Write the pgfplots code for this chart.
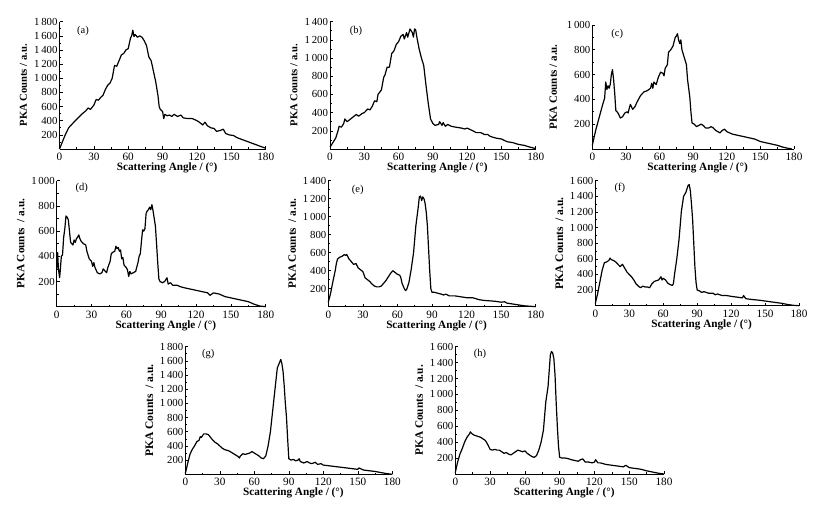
\documentclass[border=0pt]{standalone}
\usepackage{fontspec}
\setmainfont{Liberation Serif}
\usepackage{pgfplots}
\pgfplotsset{compat=1.18}
\pgfplotsset{pka/.style={
  scale only axis, axis lines=left, axis line style={-, line width=0.7pt},
  xmin=0, xmax=180, ymin=0, no marks,
  xtick={0,30,...,180}, minor xtick={15,45,...,165},
  tick align=inside, major tick length=3pt, minor tick length=1.8pt,
  tick style={line width=0.6pt, black},
  /pgf/number format/assume math mode=true,
  /pgf/number format/1000 sep={\,},
  xticklabel style={font=\fontsize{11.2}{13}\selectfont, inner sep=0pt, yshift=-4pt},
  yticklabel style={font=\fontsize{10.8}{12}\selectfont, inner sep=1.8pt},
  xlabel={Scattering Angle / (°)},
  xlabel style={at={([yshift=-13.5pt]axis description cs:0.522,0)}, anchor=north, inner sep=0pt, font=\bfseries\fontsize{11.2}{13}\selectfont},
  ylabel style={at={([xshift=-36pt]axis description cs:0,0.5)}, anchor=center, inner sep=0pt},
  every axis plot post/.append style={black, line width=1.2pt, line join=round, mark=none},
  clip=false,
}}
\begin{document}
\begin{tikzpicture}
\useasboundingbox (0,0) rectangle (819pt,506pt);
% (a)
\begin{axis}[pka, at={(59.5pt,357pt)}, anchor=south west, width=206.2pt, height=127.3pt,
  ymax=1800, ytick={200,400,...,1800}, minor ytick={100,300,...,1700},
  ylabel={PKA Counts / a.u.}, ylabel style={font=\bfseries\fontsize{10.6}{12}\selectfont}]
\addplot coordinates {(0,0) (5,200) (8,300) (12,370) (15,420) (20,500) (23,540) (25,580) (27,560) (30,620) (32,700) (34,690) (36,730) (38,760) (40,840) (42,900) (44,930) (46,1000) (48,1180) (50,1170) (52,1250) (54,1330) (56,1350) (58,1400) (60,1420) (62,1570) (63,1600) (64,1680) (65,1590) (66,1620) (68,1580) (70,1600) (72,1580) (74,1530) (76,1460) (78,1300) (80,1250) (82,1100) (84,950) (86,750) (87,600) (88,560) (90,530) (91,430) (92,490) (94,470) (96,480) (98,460) (100,490) (103,460) (106,480) (108,440) (112,430) (116,430) (120,400) (122,380) (125,340) (127,380) (129,330) (132,300) (135,290) (137,250) (140,260) (143,280) (145,220) (148,200) (152,190) (155,160) (160,130) (165,100) (170,70) (175,40) (180,10)};
\node at (rel axis cs:0.114,0.93) {\fontsize{10.5}{12}\selectfont (a)};
\end{axis}
% (b)
\begin{axis}[pka, at={(330pt,357pt)}, anchor=south west, width=205.7pt, height=127.3pt,
  ymax=1400, ytick={200,400,...,1400}, minor ytick={100,300,...,1300},
  ylabel={PKA Counts / a.u.}, ylabel style={font=\bfseries\fontsize{10.6}{12}\selectfont}]
\addplot coordinates {(0,20) (3,80) (5,120) (7,200) (8,250) (10,240) (12,280) (13,330) (15,300) (18,330) (20,350) (23,380) (25,360) (28,390) (30,400) (33,440) (35,430) (37,470) (39,530) (41,520) (42,600) (45,650) (47,790) (48,810) (50,900) (52,900) (54,1050) (56,1080) (58,1150) (60,1180) (62,1240) (64,1260) (65,1210) (67,1280) (68,1230) (70,1320) (72,1280) (73,1230) (74,1320) (75,1310) (76,1230) (78,1100) (80,1000) (82,920) (84,700) (86,500) (88,330) (90,280) (92,260) (95,270) (96,300) (98,260) (99,290) (101,250) (103,270) (106,250) (110,240) (115,230) (118,220) (120,230) (125,200) (128,180) (132,180) (135,160) (138,160) (140,140) (145,120) (150,110) (155,80) (160,70) (165,50) (170,40) (175,20) (180,5)};
\node at (rel axis cs:0.126,0.93) {\fontsize{10.5}{12}\selectfont (b)};
\end{axis}
% (c)
\begin{axis}[pka, at={(592.3pt,357pt)}, anchor=south west, width=201.7pt, height=124pt,
  ymax=1000, ytick={200,400,...,1000}, minor ytick={100,300,...,900},
  ylabel={PKA Counts / a.u.}, ylabel style={at={([xshift=-39pt]axis description cs:0,0.5)}, font=\bfseries\fontsize{11}{12}\selectfont}]
\addplot coordinates {(0,30) (3,150) (6,250) (9,350) (11,410) (12,540) (13,480) (14,510) (15,490) (16,520) (17,600) (18,640) (19,560) (20,450) (21,310) (22,300) (23,290) (25,250) (27,260) (29,290) (31,300) (32,290) (33,330) (34,360) (35,340) (36,320) (38,340) (40,380) (43,430) (46,460) (49,470) (52,490) (53,530) (54,490) (55,540) (57,520) (59,580) (61,620) (63,610) (64,590) (65,650) (67,680) (68,780) (70,800) (72,830) (74,900) (75,910) (76,930) (77,880) (78,850) (79,880) (80,800) (82,740) (84,680) (85,560) (87,420) (88,300) (89,210) (91,200) (93,180) (95,190) (97,200) (99,190) (101,170) (104,170) (106,180) (108,170) (110,150) (112,140) (114,130) (116,150) (118,160) (120,140) (125,120) (130,110) (135,100) (140,90) (145,80) (150,60) (155,50) (160,40) (165,30) (170,15) (175,5) (178,0)};
\node at (rel axis cs:0.124,0.925) {\fontsize{10.5}{12}\selectfont (c)};
\end{axis}
% (d)
\begin{axis}[pka, at={(56.7pt,199.3pt)}, anchor=south west, width=209pt, height=126pt,
  ymax=1000, ytick={200,400,...,1000}, minor ytick={100,300,...,900},
  ylabel={PKA Counts \ / a.u.}, ylabel style={font=\bfseries\fontsize{11.2}{12}\selectfont}]
\addplot coordinates {(0,300) (0.8,430) (1.5,300) (2.5,230) (3,280) (4,400) (5,410) (6,550) (7,620) (8,720) (9,710) (10,690) (11,600) (12,510) (13,500) (14,490) (15,530) (16,510) (17,540) (18,550) (19,570) (20,540) (21,520) (23,500) (25,490) (26,440) (28,380) (30,360) (31,320) (32,350) (33,310) (35,270) (37,260) (39,270) (40,300) (41,290) (43,270) (44,310) (46,360) (47,420) (48,430) (50,440) (51,480) (52,460) (53,470) (54,440) (55,450) (56,380) (57,390) (58,330) (60,310) (61,290) (62,240) (63,280) (64,260) (66,270) (68,280) (70,350) (71,400) (72,420) (73,520) (74,610) (75,600) (76,620) (77,740) (78,760) (79,770) (80,790) (81,770) (82,810) (83,760) (84,700) (85,640) (86,500) (87,350) (88,220) (89,200) (91,190) (93,200) (95,230) (96,180) (98,190) (100,170) (104,170) (106,160) (110,150) (115,140) (120,130) (125,120) (130,110) (132,90) (135,110) (140,100) (145,80) (150,70) (155,60) (160,50) (165,40) (170,20) (175,5) (180,0)};
\node at (rel axis cs:0.12,0.94) {\fontsize{10.5}{12}\selectfont (d)};
\end{axis}
% (e)
\begin{axis}[pka, at={(328.3pt,199.3pt)}, anchor=south west, width=207.4pt, height=126pt,
  ymax=1400, ytick={200,400,...,1400}, minor ytick={100,300,...,1300},
  ylabel={PKA Counts \ / a.u.}, ylabel style={font=\bfseries\fontsize{11.2}{12}\selectfont}]
\addplot coordinates {(0,50) (2,150) (4,280) (6,400) (7,480) (8,530) (10,550) (12,560) (14,580) (15,570) (16,580) (18,530) (20,500) (22,470) (24,480) (26,430) (28,410) (30,390) (32,320) (34,300) (36,280) (38,250) (40,230) (42,220) (44,220) (46,230) (48,260) (50,290) (52,330) (54,370) (56,400) (58,380) (60,360) (62,350) (63,320) (64,260) (66,200) (67,180) (68,190) (70,270) (72,420) (74,600) (76,900) (78,1100) (79,1220) (80,1230) (81,1180) (82,1220) (83,1200) (84,1150) (85,1050) (86,900) (87,650) (88,400) (89,200) (90,160) (92,160) (95,150) (98,140) (100,130) (102,140) (105,120) (110,120) (115,110) (120,100) (125,100) (128,90) (130,80) (135,70) (140,65) (145,60) (150,50) (153,55) (155,40) (160,30) (165,20) (170,10) (175,5) (180,0)};
\node at (rel axis cs:0.142,0.93) {\fontsize{10.5}{12}\selectfont (e)};
\end{axis}
% (f)
\begin{axis}[pka, at={(595.3pt,200.3pt)}, anchor=south west, width=203.7pt, height=125pt,
  ymax=1600, ytick={200,400,...,1600}, minor ytick={100,300,...,1500},
  ylabel={PKA Counts \ / a.u.}, ylabel style={font=\bfseries\fontsize{11.5}{12}\selectfont}]
\addplot coordinates {(0,30) (2,150) (4,300) (6,450) (8,550) (10,560) (12,580) (13,610) (14,590) (16,580) (18,560) (20,530) (22,500) (24,530) (26,480) (28,430) (30,400) (32,370) (34,330) (36,280) (38,250) (40,230) (42,250) (44,240) (46,240) (48,230) (50,280) (52,310) (54,320) (56,330) (58,370) (59,330) (60,350) (62,330) (64,290) (66,270) (68,260) (69,280) (70,400) (72,600) (74,850) (76,1200) (78,1400) (80,1450) (82,1540) (83,1550) (84,1470) (85,1300) (86,1100) (87,800) (88,500) (89,300) (90,200) (92,190) (94,170) (96,180) (98,170) (100,160) (104,160) (106,140) (108,150) (112,130) (116,130) (120,120) (125,110) (130,100) (131,130) (133,90) (138,80) (145,70) (150,60) (155,50) (160,40) (165,30) (170,15) (175,5) (180,0)};
\node at (rel axis cs:0.121,0.94) {\fontsize{10.5}{12}\selectfont (f)};
\end{axis}
% (g)
\begin{axis}[pka, at={(185.3pt,31.7pt)}, anchor=south west, width=207pt, height=127.6pt,
  ymax=1800, ytick={200,400,...,1800}, minor ytick={100,300,...,1700},
  ylabel={PKA Counts \ / a.u.}, ylabel style={font=\bfseries\fontsize{11.5}{12}\selectfont}]
\addplot coordinates {(0,10) (2,150) (4,280) (6,350) (8,400) (10,460) (12,480) (13,530) (14,520) (16,570) (18,570) (20,560) (22,520) (24,480) (26,450) (28,430) (30,400) (32,370) (34,350) (36,340) (38,330) (40,310) (42,290) (44,270) (46,250) (47,230) (48,260) (50,290) (52,280) (54,290) (56,300) (58,320) (60,300) (62,280) (64,260) (66,230) (68,220) (70,260) (72,400) (74,600) (76,900) (78,1200) (80,1500) (82,1580) (83,1620) (84,1560) (85,1450) (86,1250) (87,1000) (88,800) (89,500) (90,220) (92,200) (94,210) (96,190) (98,200) (99,220) (100,180) (103,160) (106,180) (108,160) (110,150) (113,170) (115,140) (118,150) (120,130) (125,120) (130,110) (135,100) (140,90) (145,80) (150,70) (151,90) (155,60) (160,50) (165,40) (170,25) (175,10) (180,0)};
\node at (rel axis cs:0.111,0.94) {\fontsize{10.5}{12}\selectfont (g)};
\end{axis}
% (h)
\begin{axis}[pka, at={(455.3pt,32pt)}, anchor=south west, width=208.7pt, height=127.3pt,
  ymax=1600, ytick={200,400,...,1600}, minor ytick={100,300,...,1500},
  ylabel={PKA Counts \ / a.u.}, ylabel style={font=\bfseries\fontsize{11.3}{12}\selectfont}]
\addplot coordinates {(0,20) (2,150) (4,250) (6,320) (8,400) (10,460) (12,500) (13,530) (14,510) (16,490) (18,480) (20,470) (22,460) (24,440) (26,420) (28,370) (30,310) (32,300) (34,310) (36,300) (38,300) (40,280) (42,260) (44,270) (46,250) (48,240) (50,260) (52,280) (54,300) (56,290) (58,280) (60,290) (62,260) (64,240) (66,220) (68,210) (70,230) (72,300) (74,400) (76,550) (78,900) (80,1100) (81,1300) (82,1500) (83,1540) (84,1520) (85,1450) (86,1250) (87,900) (88,600) (89,350) (90,210) (92,200) (95,200) (98,190) (100,180) (103,170) (106,160) (108,180) (110,190) (112,150) (115,150) (118,140) (120,150) (121,180) (123,140) (125,140) (130,120) (135,110) (140,100) (145,90) (147,110) (150,80) (155,70) (160,60) (165,40) (170,25) (175,10) (180,0)};
\node at (rel axis cs:0.118,0.94) {\fontsize{10.5}{12}\selectfont (h)};
\end{axis}
\end{tikzpicture}
\end{document}
